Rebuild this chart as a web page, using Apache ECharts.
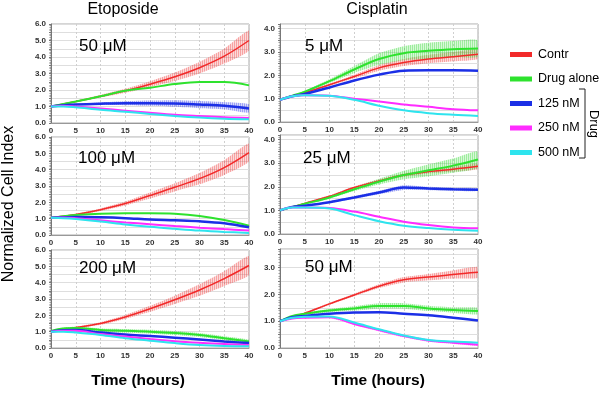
<!DOCTYPE html>
<html>
<head>
<meta charset="utf-8">
<script src="https://cdn.jsdelivr.net/npm/echarts@6/dist/echarts.min.js"></script>
<style>
  html, body { margin: 0; padding: 0; background: #fff; }
  #chart { width: 600px; height: 393px; }
</style>
</head>
<body>
<div id="chart"></div>
<script>
// time points (hours)
const TIME = [0, 2.5, 5, 10, 15, 20, 25, 30, 35, 40];
const SERIES_NAMES = ['Contr', 'Drug alone', '125 nM', '250 nM', '500 nM'];
const COLORS = ['#f22a2a', '#2ee22e', '#1b2fe6', '#ff2cff', '#2ee4ee'];
const BAND_RGB = ['240,70,70', '60,220,60', '60,70,235', '255,60,255', '50,220,235'];

// Etoposide 50 uM
const eto50Contr   = [1.0, 1.15, 1.3, 1.62, 1.95, 2.35, 2.8, 3.35, 4.05, 5.0];
const eto50ContrSd = [0.02, 0.03, 0.05, 0.08, 0.12, 0.18, 0.26, 0.35, 0.45, 0.6];
const eto50Drug    = [1.0, 1.15, 1.3, 1.62, 1.95, 2.14, 2.36, 2.48, 2.48, 2.28];
const eto50N125    = [1.0, 1.07, 1.12, 1.17, 1.2, 1.2, 1.18, 1.12, 1.05, 0.88];
const eto50N125Sd  = [0.0, 0.02, 0.04, 0.08, 0.12, 0.16, 0.2, 0.22, 0.22, 0.25];
const eto50N250    = [1.0, 1.05, 1.0, 0.88, 0.75, 0.62, 0.5, 0.42, 0.35, 0.31];
const eto50N500    = [1.0, 1.0, 0.95, 0.8, 0.68, 0.55, 0.43, 0.33, 0.26, 0.22];

// Etoposide 100 uM
const eto100Contr   = [1.05, 1.15, 1.25, 1.55, 1.93, 2.42, 2.92, 3.45, 4.13, 5.05];
const eto100ContrSd = [0.02, 0.03, 0.05, 0.08, 0.12, 0.18, 0.25, 0.35, 0.45, 0.55];
const eto100Drug    = [1.05, 1.15, 1.22, 1.3, 1.33, 1.33, 1.3, 1.17, 0.92, 0.57];
const eto100N125    = [1.05, 1.08, 1.1, 1.08, 1.03, 0.95, 0.9, 0.84, 0.72, 0.47];
const eto100N250    = [1.05, 1.07, 1.03, 0.9, 0.77, 0.66, 0.55, 0.45, 0.36, 0.28];
const eto100N500    = [1.05, 1.03, 0.98, 0.83, 0.65, 0.5, 0.38, 0.27, 0.19, 0.13];

// Etoposide 200 uM
const eto200Contr   = [1.0, 1.12, 1.25, 1.5, 1.9, 2.4, 2.95, 3.55, 4.25, 5.05];
const eto200ContrSd = [0.02, 0.03, 0.05, 0.08, 0.12, 0.18, 0.25, 0.35, 0.45, 0.58];
const eto200Drug    = [1.05, 1.2, 1.22, 1.1, 1.05, 1.0, 0.92, 0.8, 0.6, 0.4];
const eto200DrugSd  = [0.02, 0.05, 0.08, 0.1, 0.12, 0.12, 0.12, 0.12, 0.12, 0.1];
const eto200N125    = [1.0, 1.08, 1.1, 0.95, 0.82, 0.73, 0.63, 0.52, 0.4, 0.3];
const eto200N250    = [1.0, 1.05, 1.05, 0.85, 0.7, 0.55, 0.42, 0.32, 0.24, 0.19];
const eto200N500    = [1.0, 1.0, 0.95, 0.8, 0.6, 0.45, 0.3, 0.18, 0.12, 0.1];

// Cisplatin 5 uM
const cis5Contr   = [0.95, 1.12, 1.25, 1.6, 1.95, 2.32, 2.55, 2.7, 2.8, 2.9];
const cis5ContrSd = [0.0, 0.02, 0.03, 0.05, 0.08, 0.12, 0.15, 0.18, 0.2, 0.2];
const cis5Drug    = [0.95, 1.13, 1.3, 1.75, 2.25, 2.7, 2.95, 3.05, 3.12, 3.15];
const cis5DrugSd  = [0.0, 0.02, 0.04, 0.08, 0.15, 0.25, 0.3, 0.35, 0.35, 0.35];
const cis5N125    = [0.95, 1.1, 1.2, 1.48, 1.78, 2.03, 2.2, 2.22, 2.22, 2.2];
const cis5N250    = [0.95, 1.1, 1.15, 1.13, 1.0, 0.88, 0.75, 0.65, 0.55, 0.5];
const cis5N500    = [0.95, 1.1, 1.15, 1.12, 0.95, 0.7, 0.5, 0.38, 0.31, 0.26];

// Cisplatin 25 uM
const cis25Contr   = [1.0, 1.15, 1.3, 1.6, 1.97, 2.25, 2.5, 2.65, 2.75, 2.87];
const cis25ContrSd = [0.0, 0.02, 0.03, 0.04, 0.05, 0.06, 0.07, 0.08, 0.1, 0.12];
const cis25Drug    = [1.0, 1.15, 1.28, 1.55, 1.9, 2.22, 2.5, 2.7, 2.9, 3.16];
const cis25DrugSd  = [0.0, 0.02, 0.03, 0.05, 0.08, 0.12, 0.18, 0.25, 0.3, 0.35];
const cis25N125    = [1.0, 1.15, 1.2, 1.35, 1.55, 1.76, 1.97, 1.93, 1.9, 1.88];
const cis25N125Sd  = [0.0, 0.02, 0.03, 0.04, 0.05, 0.07, 0.1, 0.07, 0.06, 0.06];
const cis25N250    = [1.0, 1.12, 1.12, 1.1, 0.95, 0.73, 0.52, 0.38, 0.28, 0.24];
const cis25N500    = [1.0, 1.12, 1.12, 1.08, 0.8, 0.54, 0.35, 0.25, 0.18, 0.14];

// Cisplatin 50 uM
const cis50Contr   = [1.0, 1.15, 1.3, 1.65, 1.98, 2.31, 2.55, 2.65, 2.75, 2.83];
const cis50ContrSd = [0.0, 0.02, 0.03, 0.04, 0.05, 0.07, 0.1, 0.12, 0.15, 0.2];
const cis50Drug    = [1.0, 1.2, 1.28, 1.4, 1.48, 1.57, 1.57, 1.48, 1.42, 1.38];
const cis50DrugSd  = [0.0, 0.02, 0.04, 0.06, 0.08, 0.1, 0.1, 0.1, 0.1, 0.12];
const cis50N125    = [1.0, 1.15, 1.2, 1.28, 1.33, 1.34, 1.28, 1.22, 1.13, 1.03];
const cis50N250    = [1.0, 1.1, 1.13, 1.15, 0.9, 0.67, 0.45, 0.28, 0.2, 0.12];
const cis50N250Sd  = [0.0, 0.0, 0.02, 0.03, 0.04, 0.05, 0.05, 0.05, 0.05, 0.04];
const cis50N500    = [1.0, 1.13, 1.17, 1.18, 0.95, 0.7, 0.47, 0.3, 0.24, 0.2];

const PANELS = [
  { label: '50 μM',  yMax: 6,   lines: [eto50Contr, eto50Drug, eto50N125, eto50N250, eto50N500],      sd: [eto50ContrSd, null, eto50N125Sd, null, null] },
  { label: '100 μM', yMax: 6,   lines: [eto100Contr, eto100Drug, eto100N125, eto100N250, eto100N500], sd: [eto100ContrSd, null, null, null, null] },
  { label: '200 μM', yMax: 6,   lines: [eto200Contr, eto200Drug, eto200N125, eto200N250, eto200N500], sd: [eto200ContrSd, eto200DrugSd, null, null, null] },
  { label: '5 μM',   yMax: 4.2, lines: [cis5Contr, cis5Drug, cis5N125, cis5N250, cis5N500],           sd: [cis5ContrSd, cis5DrugSd, null, null, null] },
  { label: '25 μM',  yMax: 4.2, lines: [cis25Contr, cis25Drug, cis25N125, cis25N250, cis25N500],      sd: [cis25ContrSd, cis25DrugSd, cis25N125Sd, null, null] },
  { label: '50 μM',  yMax: 3.7, lines: [cis50Contr, cis50Drug, cis50N125, cis50N250, cis50N500],      sd: [cis50ContrSd, cis50DrugSd, null, cis50N250Sd, null] }
];

// plot rectangles and panel label positions
const GRIDS = [
  { left: 51,  top: 24,  width: 198, height: 99, lx: 79,  ly: 38 },
  { left: 51,  top: 137, width: 198, height: 98, lx: 78,  ly: 150 },
  { left: 51,  top: 250, width: 198, height: 98, lx: 79,  ly: 260 },
  { left: 280, top: 24,  width: 198, height: 98, lx: 305, ly: 38 },
  { left: 280, top: 135, width: 198, height: 99, lx: 303, ly: 150 },
  { left: 280, top: 249, width: 198, height: 99, lx: 305, ly: 259 }
];

// vertical-hatch fill, like the per-point error bars of the original
function hatch(rgb) {
  const c = document.createElement('canvas');
  c.width = 2; c.height = 1;
  const ctx = c.getContext('2d');
  ctx.fillStyle = 'rgba(' + rgb + ',0.5)';
  ctx.fillRect(0, 0, 1, 1);
  ctx.fillStyle = 'rgba(' + rgb + ',0.2)';
  ctx.fillRect(1, 0, 1, 1);
  return { image: c, repeat: 'repeat' };
}

const chart = echarts.init(document.getElementById('chart'));
const FONT = 'Liberation Sans, Arial, sans-serif';

const grid = [], xAxis = [], yAxis = [], series = [], graphic = [];

PANELS.forEach(function (p, gi) {
  const g = GRIDS[gi];
  grid.push({ left: g.left, top: g.top, width: g.width, height: g.height, show: true, borderColor: '#aaa', borderWidth: 1, backgroundColor: '#fff' });
  xAxis.push({
    type: 'value', gridIndex: gi, min: 0, max: 40, interval: 5,
    axisLine: { lineStyle: { color: '#999' } },
    axisTick: { show: false },
    axisLabel: { fontSize: 8, fontWeight: 'bold', color: '#333', margin: 4, fontFamily: FONT },
    splitLine: { show: true, lineStyle: { color: '#cfcfcf', type: [2, 2] } }
  });
  yAxis.push({
    type: 'value', gridIndex: gi, min: 0, max: p.yMax, interval: 0.5,
    axisLine: { show: true, lineStyle: { color: '#777' } },
    axisTick: { show: true, length: 2, lineStyle: { color: '#777' } },
    minorTick: { show: true, splitNumber: 5, length: 1.5, lineStyle: { color: '#999' } },
    axisLabel: {
      fontSize: 8, fontWeight: 'bold', color: '#333', margin: 5, fontFamily: FONT,
      formatter: function (v) { return Math.abs(v - Math.round(v)) < 1e-6 ? v.toFixed(1) : ''; }
    },
    splitLine: { show: true, lineStyle: { color: '#dedede' } }
  });

  // error bands (mean +/- sd) as one polygon per curve
  p.sd.forEach(function (sd, k) {
    if (!sd) return;
    const mean = p.lines[k];
    const fill = hatch(BAND_RGB[k]);
    series.push({
      type: 'custom', xAxisIndex: gi, yAxisIndex: gi, silent: true, clip: true, z: 1,
      data: TIME.map(function (t, i) { return [t, mean[i] - sd[i], mean[i] + sd[i]]; }),
      encode: { x: 0, y: [1, 2] },
      renderItem: function (params, api) {
        if (params.dataIndex !== 0) return;
        const up = [], lo = [];
        for (let i = 0; i < TIME.length; i++) {
          up.push(api.coord([TIME[i], mean[i] + sd[i]]));
          lo.push(api.coord([TIME[i], mean[i] - sd[i]]));
        }
        return {
          type: 'polygon',
          shape: { points: up.concat(lo.reverse()), smooth: 0.2 },
          style: { fill: fill, stroke: null }
        };
      }
    });
  });

  // mean curves
  p.lines.forEach(function (vals, k) {
    series.push({
      name: SERIES_NAMES[k], type: 'line', xAxisIndex: gi, yAxisIndex: gi, symbol: 'none', smooth: 0.35,
      color: COLORS[k], lineStyle: { width: k === 0 ? 1.5 : (k === 2 ? 2.5 : 2), color: COLORS[k] }, z: 3,
      data: TIME.map(function (t, i) { return [t, vals[i]]; })
    });
  });

  graphic.push({
    type: 'text', left: g.lx, top: g.ly, z: 10,
    style: { text: p.label, font: '17px ' + FONT, fill: '#000' }
  });
});

graphic.push(
  { type: 'text', x: 123, y: 10, style: { text: 'Etoposide', font: '16px ' + FONT, fill: '#000', textAlign: 'center', textVerticalAlign: 'middle' } },
  { type: 'text', x: 377, y: 10, style: { text: 'Cisplatin', font: '16px ' + FONT, fill: '#000', textAlign: 'center', textVerticalAlign: 'middle' } },
  { type: 'text', x: 138, y: 381, style: { text: 'Time (hours)', font: 'bold 15.5px ' + FONT, fill: '#000', textAlign: 'center', textVerticalAlign: 'middle' } },
  { type: 'text', x: 378, y: 381, style: { text: 'Time (hours)', font: 'bold 15.5px ' + FONT, fill: '#000', textAlign: 'center', textVerticalAlign: 'middle' } },
  { type: 'text', x: 9, y: 204, rotation: Math.PI / 2, style: { text: 'Normalized Cell Index', font: '16px ' + FONT, fill: '#000', textAlign: 'center', textVerticalAlign: 'middle' } },
  // bracket for drug doses
  { type: 'polyline', shape: { points: [[579, 89], [585, 89], [585, 158], [579, 158]] }, style: { stroke: '#222', lineWidth: 1, fill: null } },
  { type: 'text', x: 594, y: 124, rotation: -Math.PI / 2, style: { text: 'Drug', font: '13px ' + FONT, fill: '#000', textAlign: 'center', textVerticalAlign: 'middle' } }
);

chart.setOption({
  animation: false,
  grid: grid,
  xAxis: xAxis,
  yAxis: yAxis,
  legend: {
    data: SERIES_NAMES, orient: 'vertical', left: 505, top: 43,
    icon: 'rect', itemWidth: 22, itemHeight: 5, itemGap: 11.5,
    textStyle: { fontSize: 12.5, fontFamily: FONT, color: '#000', padding: [0, 0, 0, 1] }
  },
  graphic: graphic,
  series: series
});
window.addEventListener('resize', function () { chart.resize(); });
</script>
</body>
</html>
